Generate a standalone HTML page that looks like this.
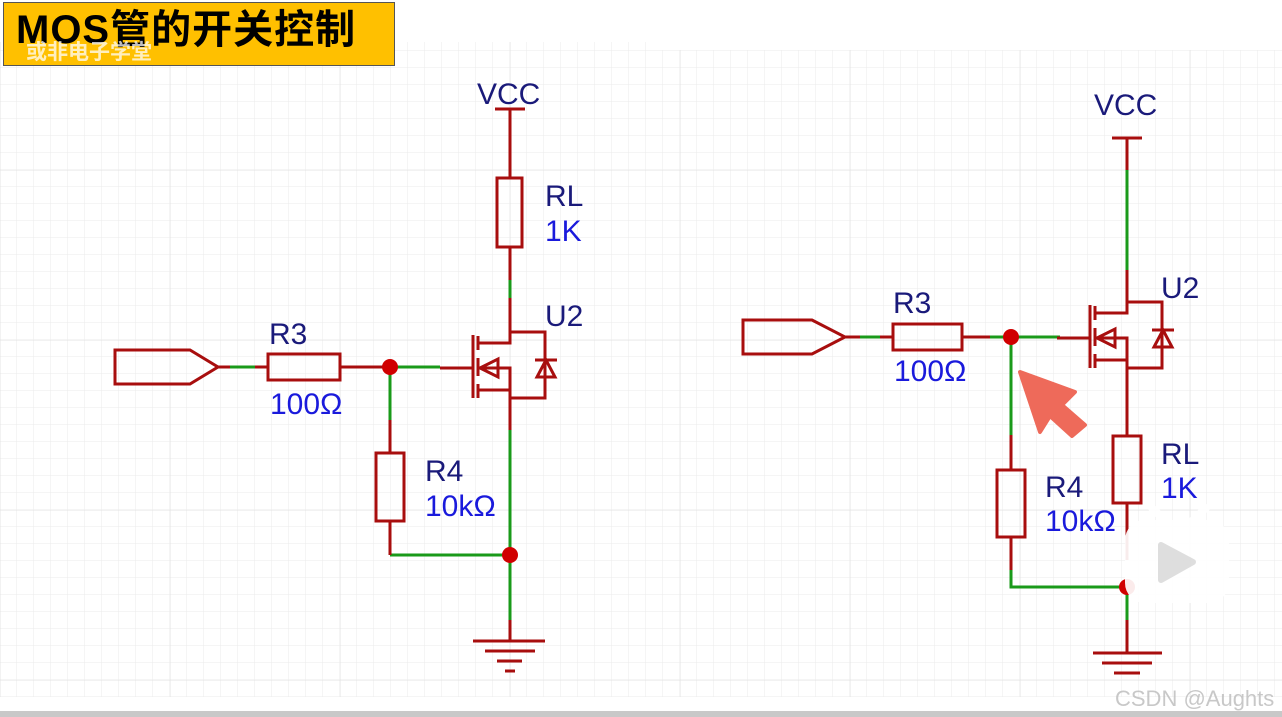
<!DOCTYPE html>
<html><head><meta charset="utf-8"><style>
html,body{margin:0;padding:0;background:#fff;}
body{width:1282px;height:717px;overflow:hidden;position:relative;font-family:"Liberation Sans","Noto Sans CJK SC",sans-serif;}
svg{position:absolute;left:0;top:0;}
</style></head><body>
<svg width="1282" height="717" viewBox="0 0 1282 717" xmlns="http://www.w3.org/2000/svg">
<defs>
<pattern id="g" width="17" height="17" patternUnits="userSpaceOnUse">
<path d="M17 0V17M0 17H17" stroke="#ebebeb" stroke-width="1" fill="none"/>
</pattern>
<pattern id="G" width="170" height="170" patternUnits="userSpaceOnUse">
<path d="M0 0V170M0 0H170" stroke="#e4e4e4" stroke-width="1" fill="none"/>
</pattern>
<g id="mos" fill="none" stroke="#a80e0e" stroke-width="3">
<path d="M440 368H472M473 335V398"/>
<path d="M478 336V350M478 358V376M478 384V398"/>
<path d="M478 343H510V300M478 368H510V398M478 390H510"/>
<path d="M510 332H545V398H510"/>
<path d="M480 368L498 359V377Z"/>
<path d="M535 360H557M546 360L537 377H555Z"/>
</g>
</defs>
<rect x="0" y="42" width="655" height="655" fill="url(#g)"/>
<rect x="0" y="42" width="655" height="655" fill="url(#G)"/>
<rect x="655" y="50" width="627" height="647" fill="url(#g)"/>
<rect x="655" y="50" width="627" height="647" fill="url(#G)"/>
<rect x="0" y="697" width="1282" height="15" fill="#fff"/>
<rect x="0" y="711" width="1282" height="6" fill="#c8c8c8"/>

<!-- LEFT CIRCUIT -->
<g fill="none" stroke-width="3">
<path d="M495 109H525" stroke="#a80e0e"/>
<path d="M510 109V178M510 247V300" stroke="#a80e0e"/>
<path d="M510 280V298" stroke="#1a9a1a"/>
<rect x="497" y="178" width="25" height="69" stroke="#a80e0e"/>
<path d="M115 350H190L218 367L190 384H115Z" stroke="#a80e0e"/>
<path d="M218 367H268M340 367H390" stroke="#a80e0e"/>
<path d="M230 367H255" stroke="#1a9a1a"/>
<rect x="268" y="354" width="72" height="26" stroke="#a80e0e"/>
<path d="M390 367H440M390 367V420M390 555H510M510 430V620" stroke="#1a9a1a"/>
<path d="M390 420V453M390 521V555M510 398V430M510 620V640" stroke="#a80e0e"/>
<rect x="376" y="453" width="28" height="68" stroke="#a80e0e"/>
<path d="M473 641H545M485 651H535M497 661H522M505 671H515" stroke="#a80e0e"/>
</g>
<use href="#mos"/>
<circle cx="390" cy="367" r="8" fill="#d00000"/>
<circle cx="510" cy="555" r="8" fill="#d00000"/>
<g font-size="30" fill="#1a1a7a">
<text x="477" y="104">VCC</text>
<text x="545" y="206">RL</text>
<text x="545" y="326">U2</text>
<text x="269" y="344">R3</text>
<text x="425" y="481">R4</text>
</g>
<g font-size="30" fill="#1a1adc">
<text x="545" y="241">1K</text>
<text x="270" y="414">100Ω</text>
<text x="425" y="516">10kΩ</text>
</g>

<!-- RIGHT CIRCUIT -->
<g fill="none" stroke-width="3">
<path d="M1112 138H1142" stroke="#a80e0e"/>
<path d="M1127 138V170M1127 272V302" stroke="#a80e0e"/>
<path d="M1127 170V272" stroke="#1a9a1a"/>
<path d="M743 320H812L845 337L812 354H743Z" stroke="#a80e0e"/>
<path d="M845 337H893M962 337H1011" stroke="#a80e0e"/>
<path d="M860 337H880M990 337H1011" stroke="#1a9a1a"/>
<rect x="893" y="324" width="69" height="26" stroke="#a80e0e"/>
<path d="M1011 337H1060M1011 337V435M1011 570V587H1127V620" stroke="#1a9a1a"/>
<path d="M1011 435V470M1011 537V570M1127 368V436M1127 503V560M1127 620V653" stroke="#a80e0e"/>
<rect x="1113" y="436" width="28" height="67" stroke="#a80e0e"/>
<rect x="997" y="470" width="28" height="67" stroke="#a80e0e"/>
<path d="M1093 653H1162M1102 663H1152M1114 673H1140" stroke="#a80e0e"/>
</g>
<use href="#mos" transform="translate(617,-30)"/>
<circle cx="1011" cy="337" r="8" fill="#d00000"/>
<circle cx="1127" cy="587" r="8" fill="#d00000"/>
<g font-size="30" fill="#1a1a7a">
<text x="1094" y="115">VCC</text>
<text x="1161" y="298">U2</text>
<text x="893" y="313">R3</text>
<text x="1045" y="497">R4</text>
<text x="1161" y="464">RL</text>
</g>
<g font-size="30" fill="#1a1adc">
<text x="894" y="381">100Ω</text>
<text x="1045" y="531">10kΩ</text>
<text x="1161" y="498">1K</text>
</g>

<!-- cursor -->
<path d="M1020 372L1075 392L1062 405L1085 425L1072 436L1050 416L1040 432Z" fill="#ee6a5a" stroke="#ee6a5a" stroke-width="4" stroke-linejoin="round"/>

<!-- play icon -->
<g opacity="0.92">
<path d="M1152 508L1166 521M1206 508L1192 521" stroke="#fff" stroke-width="8" stroke-linecap="round"/>
<rect x="1125" y="520" width="104" height="83" rx="20" fill="#fff"/>
<path d="M1161 545L1161 580L1193 562Z" fill="#dcdcdc" stroke="#dcdcdc" stroke-width="6" stroke-linejoin="round"/>
</g>
<text x="1115" y="706" font-size="22" fill="#bbb" opacity="0.8">CSDN @Aughts</text>
</svg>
<div style="position:absolute;left:3px;top:2px;width:392px;height:64px;background:#ffc000;border:1px solid #555;box-sizing:border-box;">
<div style="position:absolute;left:12px;top:4px;font-size:40px;line-height:46px;font-weight:bold;color:#000;letter-spacing:1px;white-space:nowrap;">MOS管的开关控制</div>
<div style="position:absolute;left:22px;top:38px;font-size:21px;line-height:24px;font-weight:bold;color:#fff;opacity:0.75;white-space:nowrap;">或非电子学堂</div>
</div>
</body></html>
